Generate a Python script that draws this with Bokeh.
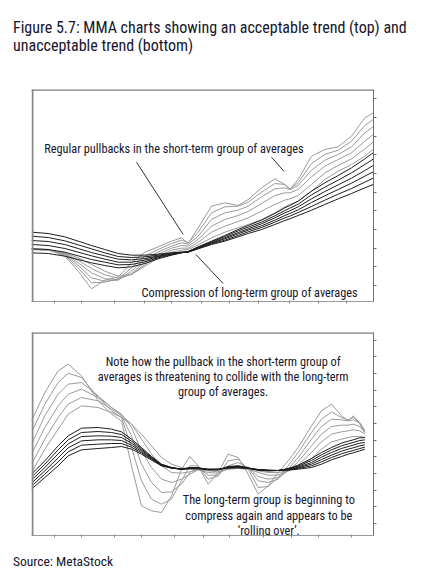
from bokeh.plotting import figure
from bokeh.models import Range1d, LinearAxis, FixedTicker, BoxAnnotation, Label, Div
from bokeh.layouts import column
from bokeh.embed import file_html
from bokeh.resources import INLINE

FONT = "Roboto Condensed"
TXT = "#15152b"

# ---------------- data: top panel (acceptable trend) ----------------
TOP_DAYS = [0, 10, 20, 28, 36, 44, 52, 60, 68, 76, 84, 90, 94, 100, 108, 116, 124, 130,
            138, 146, 152, 155, 160, 168, 176, 184, 192, 200, 205]
TOP_SHORT_3 = [522, 520, 500, 455, 402, 428, 438, 480, 512, 528, 545, 555, 538, 585, 650, 660, 652, 670,
               705, 732, 715, 700, 730, 800, 820, 828, 860, 915, 930]
TOP_SHORT_5 = [522, 520, 503, 465, 420, 422, 432, 465, 500, 520, 538, 548, 540, 572, 630, 648, 650, 662,
               692, 718, 715, 702, 720, 778, 805, 818, 845, 892, 910]
TOP_SHORT_8 = [521, 519, 505, 473, 435, 425, 428, 455, 490, 513, 530, 540, 536, 560, 610, 630, 638, 650,
               678, 702, 705, 700, 712, 758, 788, 805, 828, 870, 888]
TOP_SHORT_10 = [521, 519, 507, 480, 450, 432, 430, 448, 482, 506, 524, 532, 530, 550, 590, 610, 622, 634,
                658, 682, 690, 690, 700, 738, 770, 790, 810, 845, 865]
TOP_SHORT_12 = [520, 518, 508, 488, 463, 444, 434, 445, 475, 500, 518, 524, 524, 542, 572, 590, 604, 615,
                635, 655, 668, 672, 682, 715, 750, 772, 792, 822, 842]
TOP_SHORT_15 = [520, 518, 510, 495, 475, 455, 440, 445, 470, 495, 512, 518, 520, 534, 555, 572, 585, 595,
                610, 630, 648, 655, 665, 695, 730, 755, 775, 800, 820]
TOP_LONG_30 = [510, 508, 500, 490, 480, 472, 465, 468, 478, 492, 503, 510, 514, 528, 545, 562, 580, 592,
               608, 628, 645, 652, 665, 695, 720, 742, 765, 792, 810]
TOP_LONG_35 = [522, 520, 512, 501, 490, 482, 474, 475, 483, 495, 504, 510, 514, 527, 543, 559, 576, 587,
               602, 621, 637, 644, 656, 684, 707, 728, 750, 775, 791]
TOP_LONG_40 = [535, 532, 523, 512, 501, 491, 482, 482, 488, 498, 506, 511, 513, 526, 541, 555, 571, 582,
               597, 615, 630, 636, 648, 672, 694, 714, 734, 757, 772]
TOP_LONG_45 = [547, 544, 535, 523, 511, 501, 491, 489, 493, 500, 507, 511, 513, 524, 539, 552, 567, 578,
               591, 608, 622, 628, 639, 661, 681, 700, 719, 740, 753]
TOP_LONG_50 = [560, 556, 546, 534, 522, 510, 499, 496, 498, 503, 509, 512, 512, 523, 537, 548, 562, 573,
               586, 602, 615, 620, 631, 649, 668, 686, 703, 722, 734]
TOP_LONG_60 = [572, 568, 558, 545, 532, 520, 508, 503, 503, 506, 510, 512, 512, 522, 535, 545, 558, 568,
               580, 595, 607, 612, 622, 638, 655, 672, 688, 705, 715]
TOP_X_TICKS = [14, 30, 50, 68, 84, 102, 119, 136, 155, 172, 189]
TOP_Y_TICKS = [412, 468, 524, 580, 636, 692, 748, 804, 860, 916, 972]

# ---------------- data: bottom panel (unacceptable trend) ----------------
BOT_DAYS = [0, 8, 16, 22, 30, 40, 48, 54, 60, 66, 72, 78, 84, 90, 95, 100, 106, 112, 118, 124,
            130, 136, 142, 148, 154, 160, 168, 174, 180, 186, 190, 193, 197, 200]
BOT_SHORT_3 = [735, 820, 885, 905, 870, 795, 755, 735, 600, 480, 465, 460, 510, 590, 628, 600, 545, 580,
               635, 625, 575, 515, 540, 580, 615, 655, 720, 765, 785, 750, 735, 750, 725, 700]
BOT_SHORT_5 = [700, 785, 850, 878, 865, 805, 765, 745, 655, 555, 500, 485, 500, 555, 600, 600, 560, 570,
               615, 620, 590, 535, 538, 565, 600, 640, 700, 740, 762, 745, 738, 745, 730, 705]
BOT_SHORT_8 = [665, 750, 815, 845, 850, 810, 775, 750, 690, 605, 550, 520, 522, 545, 580, 595, 572, 572,
               600, 610, 595, 555, 550, 560, 590, 625, 680, 718, 740, 738, 735, 738, 728, 705]
BOT_SHORT_10 = [635, 715, 780, 815, 830, 805, 775, 755, 715, 645, 595, 560, 550, 560, 575, 588, 580, 578,
                592, 600, 595, 568, 560, 565, 585, 612, 660, 695, 718, 722, 722, 725, 718, 700]
BOT_SHORT_12 = [605, 680, 745, 785, 805, 795, 770, 752, 725, 680, 635, 600, 580, 578, 582, 588, 585, 582,
                590, 595, 592, 580, 572, 572, 585, 602, 640, 672, 695, 702, 705, 708, 705, 695]
BOT_SHORT_15 = [580, 650, 710, 755, 780, 775, 760, 745, 725, 695, 660, 625, 605, 595, 590, 590, 588, 588,
                590, 592, 590, 585, 580, 580, 585, 595, 622, 650, 672, 680, 685, 688, 688, 685]
BOT_LONG_30 = [575, 615, 660, 690, 713, 715, 710, 702, 680, 655, 628, 605, 595, 590, 595, 595, 588, 588,
               598, 600, 594, 587, 585, 586, 592, 602, 622, 640, 655, 668, 674, 678, 684, 685]
BOT_LONG_35 = [566, 605, 648, 678, 700, 703, 700, 694, 674, 651, 626, 604, 595, 590, 594, 594, 588, 588,
               597, 599, 594, 587, 585, 586, 591, 599, 616, 633, 648, 660, 666, 670, 676, 678]
BOT_LONG_40 = [557, 595, 636, 666, 688, 690, 689, 685, 668, 647, 624, 603, 594, 590, 593, 593, 589, 589,
               596, 598, 593, 588, 586, 586, 590, 596, 610, 626, 640, 652, 658, 662, 668, 670]
BOT_LONG_45 = [548, 585, 624, 654, 675, 678, 678, 676, 662, 643, 622, 602, 594, 590, 592, 592, 589, 589,
               595, 596, 593, 588, 586, 586, 589, 594, 605, 619, 632, 644, 650, 654, 660, 663]
BOT_LONG_50 = [539, 575, 612, 642, 662, 665, 667, 667, 656, 639, 620, 601, 593, 590, 592, 592, 590, 590,
               594, 595, 592, 589, 587, 586, 588, 592, 600, 612, 625, 636, 642, 646, 652, 656]
BOT_LONG_60 = [530, 565, 600, 630, 648, 652, 655, 658, 650, 635, 617, 600, 593, 590, 591, 591, 590, 590,
               593, 594, 592, 589, 587, 586, 587, 590, 595, 605, 618, 628, 635, 639, 645, 650]
BOT_X_TICKS = [14, 30, 50, 66, 86, 103, 119, 139, 156, 172, 192]
BOT_Y_TICKS = [427, 477, 527, 577, 627, 677, 727, 777, 827, 877, 927, 977]

# annotation pointer lines (day, price)
TOP_POINTERS = {"x0": [63, 144, 98.6], "y0": [782, 797, 505], "x1": [91, 151.4, 115], "y1": [565, 755, 418]}

TITLE = "Figure 5.7: MMA charts showing an acceptable trend (top) and<br>unacceptable trend (bottom)"
SOURCE = "Source: MetaStock"

SHORT_COLOR = "#9a9a9a"
LONG_COLOR = "#1e1e1e"


def deco(p, left, right, top, bottom, fill=None, line=None, lw=1.0):
    p.add_layout(BoxAnnotation(left=left, right=right, top=top, bottom=bottom,
                               left_units="canvas", right_units="canvas",
                               top_units="canvas", bottom_units="canvas",
                               fill_color=fill if fill else "white", fill_alpha=1.0 if fill else 0.0,
                               line_color=line, line_alpha=1.0 if line else 0.0, line_width=lw,
                               level="overlay"))


def panel(height, top_border, bottom_border, y_range, xt, yt):
    p = figure(width=437, height=height, output_backend="svg", toolbar_location=None,
               x_range=Range1d(0, 205.2), y_range=y_range,
               x_axis_location=None, y_axis_location=None,
               min_border_left=31, min_border_right=64,
               min_border_top=top_border, min_border_bottom=bottom_border)
    p.xgrid.visible = False
    p.ygrid.visible = False
    p.outline_line_color = None
    p.background_fill_color = "white"
    p.border_fill_color = "white"
    ax_r = LinearAxis(ticker=FixedTicker(ticks=yt))
    ax_b = LinearAxis(ticker=FixedTicker(ticks=xt))
    for ax in (ax_r, ax_b):
        ax.major_label_text_font_size = "1px"
        ax.major_label_text_color = None
        ax.major_label_standoff = 0
        ax.minor_tick_line_color = None
    ax_r.axis_line_color = "#707070"
    ax_r.major_tick_line_color = "#707070"
    ax_r.major_tick_in = 0
    ax_r.major_tick_out = 3
    ax_b.axis_line_color = "#9a9a9a"
    ax_b.major_tick_line_color = "#8a8a8a"
    ax_b.major_tick_in = 1
    ax_b.major_tick_out = 2
    p.add_layout(ax_r, "right")
    p.add_layout(ax_b, "below")
    return p


# ---------------- top panel ----------------
p1 = panel(253, 18, 23, Range1d(364, 1000), TOP_X_TICKS, TOP_Y_TICKS)
for ys in (TOP_SHORT_3, TOP_SHORT_5, TOP_SHORT_8, TOP_SHORT_10, TOP_SHORT_12, TOP_SHORT_15):
    p1.line(TOP_DAYS, ys, line_color=SHORT_COLOR, line_width=1)
for ys in (TOP_LONG_30, TOP_LONG_35, TOP_LONG_40, TOP_LONG_45, TOP_LONG_50, TOP_LONG_60):
    p1.line(TOP_DAYS, ys, line_color=LONG_COLOR, line_width=1)
p1.segment(x0=TOP_POINTERS["x0"], y0=TOP_POINTERS["y0"], x1=TOP_POINTERS["x1"], y1=TOP_POINTERS["y1"],
           line_color="#333333", line_width=1)
p1.add_layout(Label(x=7.6, y=822, text="Regular pullbacks in the short-term group of averages",
                    text_font=FONT, text_font_size="12.3px", text_color=TXT, text_baseline="alphabetic"))
p1.add_layout(Label(x=66, y=390, text="Compression of long-term group of averages",
                    text_font=FONT, text_font_size="12.3px", text_color=TXT, text_baseline="alphabetic"))
# outer box (upper part) and panel border
deco(p1, 13.75, 422.75, 0.75, 600, line="black", lw=1.5)
deco(p1, 31, 406, 17.3, 19.3, fill="#7a7a7a")
deco(p1, 31, 33, 17.3, 245, fill="#8a8a8a")
deco(p1, 373, 406, 229.5, 230.5, fill="#a0a0a0")

# ---------------- bottom panel ----------------
p2 = panel(229, 8, 18, Range1d(391, 1000), BOT_X_TICKS, BOT_Y_TICKS)
for ys in (BOT_SHORT_3, BOT_SHORT_5, BOT_SHORT_8, BOT_SHORT_10, BOT_SHORT_12, BOT_SHORT_15):
    p2.line(BOT_DAYS, ys, line_color=SHORT_COLOR, line_width=1)
for ys in (BOT_LONG_30, BOT_LONG_35, BOT_LONG_40, BOT_LONG_45, BOT_LONG_50, BOT_LONG_60):
    p2.line(BOT_DAYS, ys, line_color=LONG_COLOR, line_width=1)
for txt, y in (("Note how the pullback in the short-term group of", 913),
               ("averages is threatening to collide with the long-term", 868),
               ("group of averages.", 822)):
    p2.add_layout(Label(x=115, y=y, text=txt, text_font=FONT, text_font_size="12.3px",
                        text_color=TXT, text_align="center", text_baseline="alphabetic"))
for txt, y in (("The long-term group is beginning to", 497),
               ("compress again and appears to be", 449),
               ("\u2018rolling over\u2019.", 405)):
    p2.add_layout(Label(x=142.4, y=y, text=txt, text_font=FONT, text_font_size="12.3px",
                        text_color=TXT, text_align="center", text_baseline="alphabetic"))
deco(p2, 13.75, 422.75, -100, 227.75, line="black", lw=1.5)
deco(p2, 31, 406, 7.3, 9.3, fill="#7a7a7a")
deco(p2, 31, 33, 7.3, 228, fill="#8a8a8a")
deco(p2, 373, 406, 210.5, 211.5, fill="#a0a0a0")

title_div = Div(text=f'<div style="padding:18.5px 0 0 13px;font-family:\'{FONT}\',sans-serif;'
                     f'font-size:16px;line-height:18.5px;color:{TXT};white-space:nowrap">{TITLE}</div>',
                width=437, height=71, margin=0)
source_div = Div(text=f'<div style="padding:1px 0 0 13px;font-family:\'{FONT}\',sans-serif;'
                      f'font-size:13.5px;line-height:15px;color:{TXT};white-space:nowrap">{SOURCE}</div>',
                 width=437, height=22, margin=0)

layout = column(title_div, p1, p2, source_div, spacing=0)
open("out.html", "w").write(file_html(layout, INLINE))
